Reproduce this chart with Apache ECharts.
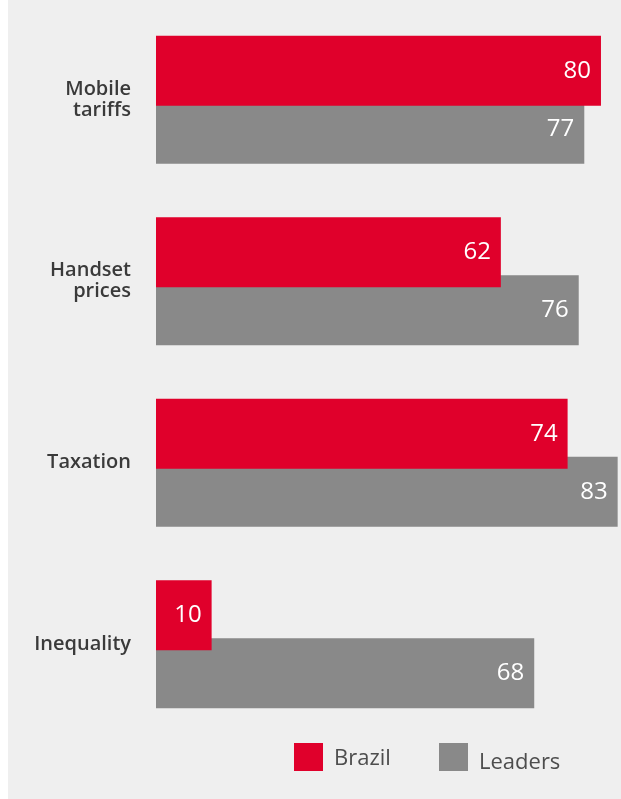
<!DOCTYPE html>
<html>
<head>
<meta charset="utf-8">
<script src="https://cdn.jsdelivr.net/npm/echarts@6/dist/echarts.min.js"></script>
<style>
  html, body { margin: 0; padding: 0; background: #ffffff; }
  #chart { position: absolute; left: 8px; top: 0; width: 613px; height: 799px; }
</style>
</head>
<body>
<div id="chart"></div>
<script>
const categories = ['Mobile\ntariffs', 'Handset\nprices', 'Taxation', 'Inequality'];
const brazil = [80, 62, 74, 10];
const leaders = [77, 76, 83, 68];
const seriesNames = ['Brazil', 'Leaders'];

const RED = '#e0002b';
const GRAY = '#898989';
const FONT = '"Open Sans", "Noto Sans", sans-serif';

const chart = echarts.init(document.getElementById('chart'), null, { renderer: 'canvas' });

const labelStyle = {
  show: true,
  position: 'insideRight',
  distance: 10,
  color: '#ffffff',
  fontSize: 24,
  fontWeight: 500,
  fontFamily: FONT
};

function legendText(padTop) {
  return {
    color: '#4d4d4d', fontSize: 22, fontFamily: FONT,
    rich: {
      t: { color: '#4d4d4d', fontSize: 22, fontFamily: FONT, padding: [padTop, 0, 0, 6] }
    }
  };
}

chart.setOption({
  backgroundColor: '#efefef',
  animation: false,
  legend: [
    {
      data: [seriesNames[0]],
      left: 281, top: 738,
      itemWidth: 29, itemHeight: 28,
      icon: 'rect',
      formatter: '{t|{name}}',
      textStyle: legendText(4),
      selectedMode: false
    },
    {
      data: [seriesNames[1]],
      left: 426, top: 738,
      itemWidth: 29, itemHeight: 28,
      icon: 'rect',
      formatter: '{t|{name}}',
      textStyle: legendText(12),
      selectedMode: false
    }
  ],
  grid: { left: 148, top: 9, right: 0, height: 726, containLabel: false },
  xAxis: {
    type: 'value', min: 0, max: 83.6,
    show: false
  },
  yAxis: {
    type: 'category',
    data: categories,
    inverse: true,
    axisLine: { show: false },
    axisTick: { show: false },
    splitLine: { show: false },
    axisLabel: {
      margin: 25,
      color: '#3a3a3a',
      fontSize: 20,
      fontWeight: 600,
      lineHeight: 21,
      fontFamily: FONT,
      align: 'right'
    }
  },
  series: [
    {
      name: seriesNames[0],
      type: 'bar',
      data: brazil,
      barWidth: 70,
      barGap: '-17.14%',
      z: 3,
      itemStyle: { color: RED },
      label: labelStyle
    },
    {
      name: seriesNames[1],
      type: 'bar',
      data: leaders,
      barWidth: 70,
      z: 2,
      itemStyle: { color: GRAY },
      label: labelStyle
    }
  ]
});
</script>
</body>
</html>
